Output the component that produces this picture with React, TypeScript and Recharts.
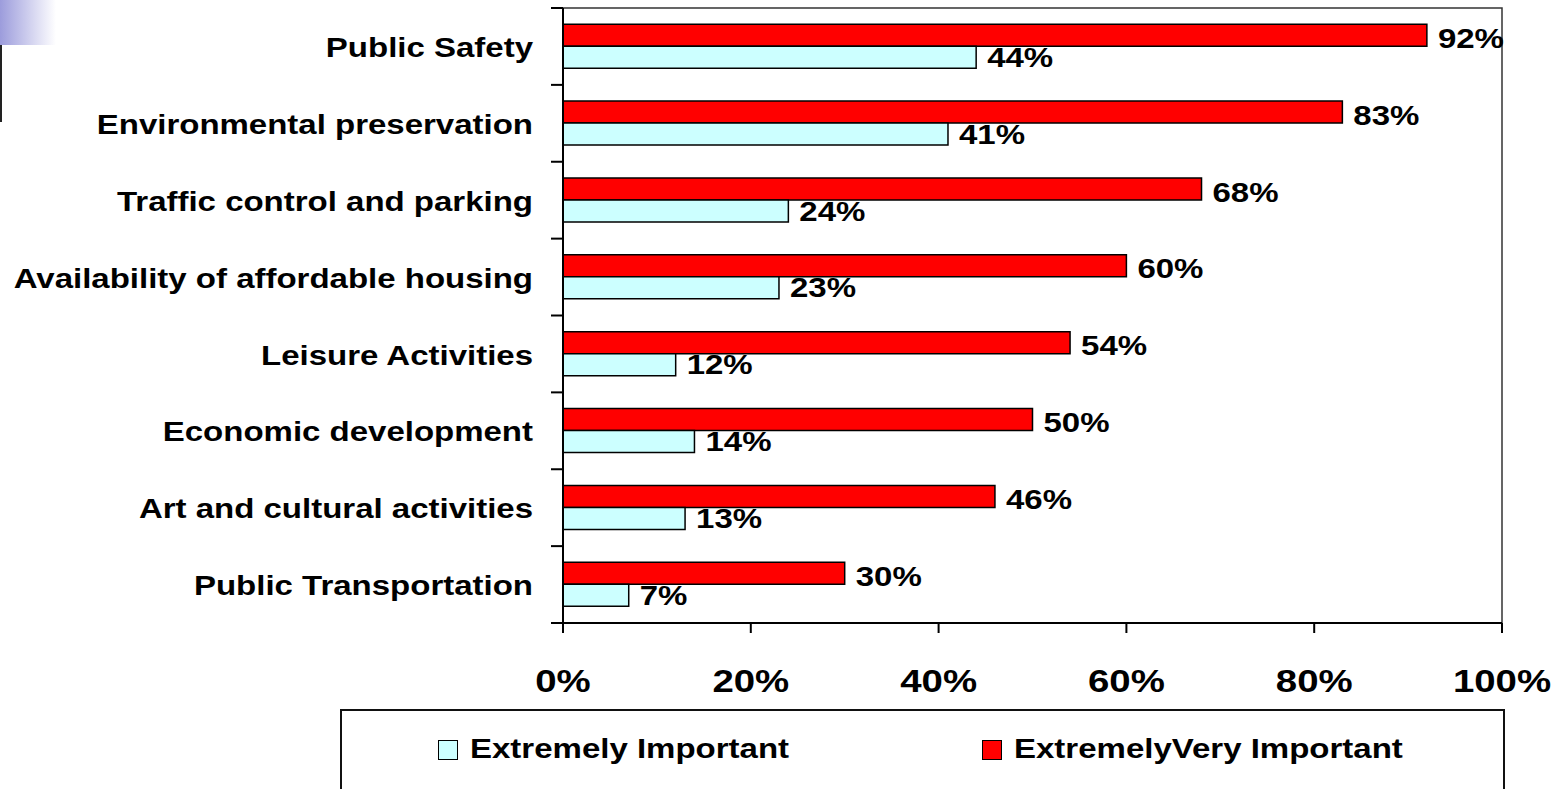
import React from 'react';
import { BarChart, Bar, XAxis, YAxis, ReferenceArea } from 'recharts';

const categories = [
  'Public Safety',
  'Environmental preservation',
  'Traffic control and parking',
  'Availability of affordable housing',
  'Leisure Activities',
  'Economic development',
  'Art and cultural activities',
  'Public Transportation',
];
const extremelyImportant = [44, 41, 24, 23, 12, 14, 13, 7];
const extremelyVeryImportant = [92, 83, 68, 60, 54, 50, 46, 30];
const xTicks = [0, 20, 40, 60, 80, 100];

const data = categories.map((name, i) => ({
  name,
  extremely: extremelyImportant[i],
  veryImportant: extremelyVeryImportant[i],
}));

const WIDTH = 1568;
const HEIGHT = 789;
const MARGIN = { top: 8, right: 66, left: 0, bottom: 106 };
const X_AXIS_HEIGHT = 60;
const LABEL_GAP = 30;
// half a category band, used to put the y tick marks between categories
const PLOT_H = HEIGHT - MARGIN.top - MARGIN.bottom - X_AXIS_HEIGHT;
const HALF_BAND = PLOT_H / categories.length / 2;

const FONT = '"Liberation Sans", Arial, sans-serif';
const STRETCH = 1.2;

const CategoryTick = (props: any) => {
  const { x, y, payload, index } = props;
  const axisX = x + LABEL_GAP;
  const last = index === categories.length - 1;
  return (
    <g>
      <line x1={axisX - 12} x2={axisX} y1={y - HALF_BAND} y2={y - HALF_BAND} stroke="#000" strokeWidth={2} />
      {last && (
        <line x1={axisX - 12} x2={axisX} y1={y + HALF_BAND} y2={y + HALF_BAND} stroke="#000" strokeWidth={2} />
      )}
      <g transform={`translate(${x},${y + 1})`}>
        <text
          transform={`scale(${STRETCH},1)`}
          textAnchor="end"
          dy="0.35em"
          fontFamily={FONT}
          fontWeight="bold"
          fontSize={27.5}
          fill="#000"
        >
          {payload.value}
        </text>
      </g>
    </g>
  );
};

const PercentTick = (props: any) => {
  const { x, y, payload } = props;
  return (
    <g transform={`translate(${x},${y})`}>
      <text
        transform={`scale(${STRETCH},1)`}
        textAnchor="middle"
        dy="0.71em"
        fontFamily={FONT}
        fontWeight="bold"
        fontSize={32}
        fill="#000"
      >
        {`${payload.value}%`}
      </text>
    </g>
  );
};

const makeValueLabel = (shift: number) => (props: any) => {
  const { x, y, width, height, value } = props;
  return (
    <g transform={`translate(${Number(x) + Number(width) + 11},${Number(y) + Number(height) / 2 + shift})`}>
      <text
        transform={`scale(${STRETCH},1)`}
        textAnchor="start"
        dy="0.35em"
        fontFamily={FONT}
        fontWeight="bold"
        fontSize={27.5}
        fill="#000"
      >
        {`${value}%`}
      </text>
    </g>
  );
};

const legendItems = [
  { label: 'Extremely Important', color: '#CCFFFF', left: 98 },
  { label: 'ExtremelyVery Important', color: '#FF0000', left: 642 },
];

export default function App() {
  return (
    <div
      style={{
        position: 'absolute',
        left: 0,
        top: 0,
        width: WIDTH,
        height: HEIGHT,
        overflow: 'hidden',
        background: '#fff',
      }}
    >
      {/* slide decoration, top left */}
      <div
        style={{
          position: 'absolute',
          left: 0,
          top: 0,
          width: 56,
          height: 45,
          background: 'linear-gradient(to right, #9c9cdc, #ffffff)',
        }}
      />
      <div style={{ position: 'absolute', left: 0, top: 45, width: 2, height: 77, background: '#222' }} />

      <BarChart
        width={WIDTH}
        height={HEIGHT}
        data={data}
        layout="vertical"
        margin={MARGIN}
        barCategoryGap="21%"
        barGap={0}
      >
        <XAxis
          type="number"
          domain={[0, 100]}
          ticks={xTicks}
          height={X_AXIS_HEIGHT}
          tickSize={10}
          tickMargin={36}
          tick={<PercentTick />}
          axisLine={{ stroke: '#000', strokeWidth: 2 }}
          tickLine={{ stroke: '#000', strokeWidth: 2 }}
        />
        <YAxis
          type="category"
          dataKey="name"
          width={563}
          tickSize={0}
          tickMargin={LABEL_GAP}
          tick={<CategoryTick />}
          tickLine={false}
          axisLine={{ stroke: '#000', strokeWidth: 2 }}
        />
        {/* plot frame (top and right edges) */}
        <ReferenceArea x1={0} x2={100} fill="none" stroke="#333" strokeWidth={1.5} />
        <Bar
          dataKey="veryImportant"
          fill="#FF0000"
          stroke="#000"
          strokeWidth={1.5}
          isAnimationActive={false}
          label={makeValueLabel(3)}
        />
        <Bar
          dataKey="extremely"
          fill="#CCFFFF"
          stroke="#000"
          strokeWidth={1.5}
          isAnimationActive={false}
          label={makeValueLabel(0)}
        />
      </BarChart>

      {/* legend box */}
      <div
        style={{
          position: 'absolute',
          left: 340,
          top: 709,
          width: 1165,
          height: 100,
          border: '2px solid #111',
          boxSizing: 'border-box',
        }}
      >
        {legendItems.map((item) => (
          <div key={item.label}>
            <div
              style={{
                position: 'absolute',
                left: item.left - 2,
                top: 29,
                width: 18,
                height: 18,
                background: item.color,
                border: '1.5px solid #000',
              }}
            />
            <div
              style={{
                position: 'absolute',
                left: item.left + 30,
                top: 21,
                fontFamily: FONT,
                fontWeight: 'bold',
                fontSize: 27.5,
                lineHeight: '34px',
                whiteSpace: 'nowrap',
                transform: `scaleX(${STRETCH})`,
                transformOrigin: 'left center',
                color: '#000',
              }}
            >
              {item.label}
            </div>
          </div>
        ))}
      </div>
    </div>
  );
}
